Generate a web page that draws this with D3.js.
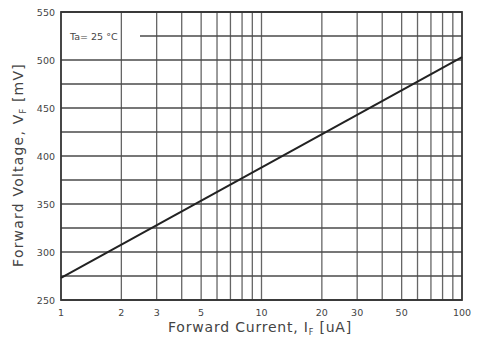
<!DOCTYPE html>
<html>
<head>
<meta charset="utf-8">
<script src="https://cdn.jsdelivr.net/npm/d3@7"></script>
<style>
body { margin: 0; background: #fff; }
text { font-family: "DejaVu Sans", sans-serif; fill: #444; }
</style>
</head>
<body>
<script>
// * Data
const currentUA = [1, 100];
const voltageMV = [273, 503];
const xTickLabels = [1, 2, 3, 5, 10, 20, 30, 50, 100];
const yTickLabels = [250, 300, 350, 400, 450, 500, 550];
const yGrid = [275, 325, 375, 425, 475, 525];
const xGrid = [2, 3, 4, 5, 6, 7, 8, 9, 20, 30, 40, 50, 60, 70, 80, 90, 10];

// * Size & Margins
let width = 479;
let height = 341;
const margin = { top: 12, right: 17, bottom: 41, left: 61 };

var svg = d3
	.select("body")
	.append("svg")
	.attr("width", width)
	.attr("height", height);

const x = d3.scaleLog().domain([1, 100]).range([margin.left, width - margin.right]);
const y = d3.scaleLinear().domain([250, 550]).range([height - margin.bottom, margin.top]);

// * Grid
svg.append("g")
	.selectAll("line")
	.data(xGrid)
	.join("line")
	.attr("x1", (d) => x(d))
	.attr("x2", (d) => x(d))
	.attr("y1", y(250))
	.attr("y2", y(550))
	.attr("stroke", "#666")
	.attr("stroke-width", 1.3);

svg.append("g")
	.selectAll("line")
	.data(yTickLabels.concat(yGrid))
	.join("line")
	.attr("x1", (d) => (d === 525 ? 140 : x(1)))
	.attr("x2", x(100))
	.attr("y1", (d) => y(d))
	.attr("y2", (d) => y(d))
	.attr("stroke", "#4a4a4a")
	.attr("stroke-width", 1.5);

// * Frame
svg.append("rect")
	.attr("x", x(1))
	.attr("y", y(550))
	.attr("width", x(100) - x(1))
	.attr("height", y(250) - y(550))
	.attr("fill", "none")
	.attr("stroke", "#333")
	.attr("stroke-width", 1.8);

// * Ticks labels
svg.append("g")
	.selectAll("text")
	.data(yTickLabels)
	.join("text")
	.attr("x", x(1) - 6)
	.attr("y", (d) => y(d) + 3.5)
	.attr("text-anchor", "end")
	.attr("font-size", "9.5px")
	.text((d) => d);

svg.append("g")
	.selectAll("text")
	.data(xTickLabels)
	.join("text")
	.attr("x", (d) => x(d))
	.attr("y", y(250) + 16)
	.attr("text-anchor", "middle")
	.attr("font-size", "9.5px")
	.text((d) => d);

// * Titles
svg.append("text")
	.attr("x", 260)
	.attr("y", 332)
	.attr("text-anchor", "middle")
	.attr("font-size", "14px")
	.attr("letter-spacing", "0.8px")
	.html('Forward Current, I<tspan font-size="8px" dy="3">F</tspan><tspan dy="-3"> [uA]</tspan>');

svg.append("text")
	.attr("transform", `translate(23, 165) rotate(-90)`)
	.attr("text-anchor", "middle")
	.attr("font-size", "14px")
	.attr("letter-spacing", "1.2px")
	.html('Forward Voltage, V<tspan font-size="8px" dy="3">F</tspan><tspan dy="-3"> [mV]</tspan>');

svg.append("text")
	.attr("x", 70)
	.attr("y", y(525) + 3.5)
	.attr("font-size", "9.5px")
	.text("Ta= 25 °C");

// * Curve
const line = d3.line().x((d) => x(d[0])).y((d) => y(d[1]));
svg.append("path")
	.datum(d3.zip(currentUA, voltageMV))
	.attr("d", line)
	.attr("fill", "none")
	.attr("stroke", "#222")
	.attr("stroke-width", 2);
</script>
</body>
</html>
